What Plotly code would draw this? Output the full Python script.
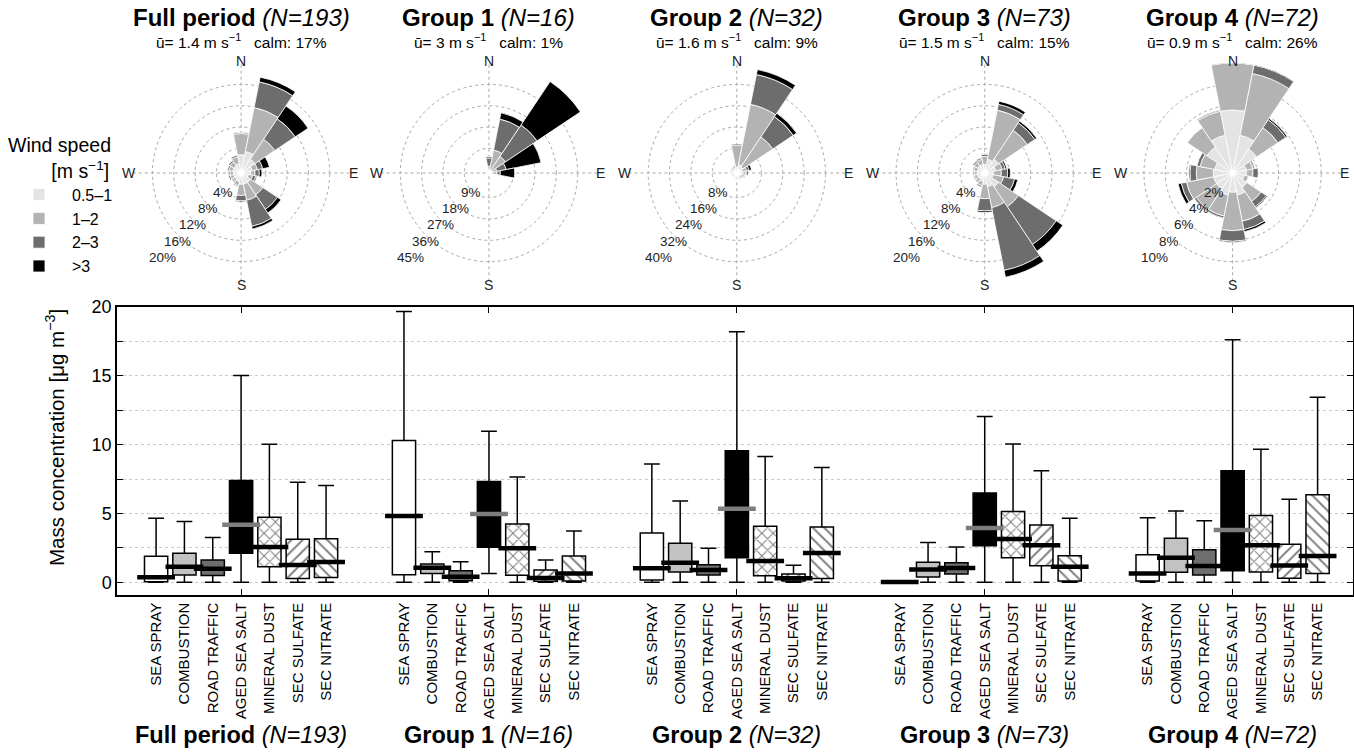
import math
import plotly.graph_objects as go

W, H = 1354, 754
FONT = "Liberation Sans, Arial, Helvetica, sans-serif"

# ---------------------------------------------------------------- data
groups = ["Full period", "Group 1", "Group 2", "Group 3", "Group 4"]
n_obs = [193, 16, 32, 73, 72]
mean_speed = ["1.4", "3", "1.6", "1.5", "0.9"]
calm_pct = [17, 1, 9, 15, 26]

categories = ["SEA SPRAY", "COMBUSTION", "ROAD TRAFFIC", "AGED SEA SALT",
              "MINERAL DUST", "SEC SULFATE", "SEC NITRATE"]

# box statistics, one row per source, one value per group
whisker_low = [
    [0, 0, 0, 0, 0],
    [0, 0, 0, 0, 0],
    [0, 0, 0, 0, 0],
    [0, 0.65, 0, 0, 0],
    [0, 0, 0, 0, 0],
    [0, 0, 0, 0, 0],
    [0, 0, 0, 0, 0],
]
q1 = [
    [0.05, 0.56, 0.17, 0.0, 0.10],
    [0.53, 0.65, 0.75, 0.38, 0.73],
    [0.50, 0.12, 0.53, 0.60, 0.53],
    [2.11, 2.55, 1.79, 2.66, 0.85],
    [1.14, 0.51, 0.48, 1.79, 0.75],
    [0.27, 0.07, 0.10, 1.21, 0.29],
    [0.36, 0.10, 0.27, 0.10, 0.65],
]
median = [
    [0.37, 4.82, 1.02, 0.03, 0.65],
    [1.14, 1.06, 1.43, 0.94, 1.79],
    [0.99, 0.41, 0.89, 1.04, 1.19],
    [4.19, 4.97, 5.35, 3.95, 3.80],
    [2.57, 2.47, 1.55, 3.15, 2.69],
    [1.26, 0.31, 0.29, 2.69, 1.23],
    [1.48, 0.65, 2.13, 1.14, 1.91],
]
q3 = [
    [1.90, 10.30, 3.59, 0.08, 2.01],
    [2.11, 1.33, 2.83, 1.45, 3.20],
    [1.62, 0.85, 1.28, 1.43, 2.37],
    [7.39, 7.32, 9.55, 6.49, 8.10],
    [4.73, 4.24, 4.07, 5.14, 4.85],
    [3.13, 0.89, 0.60, 4.17, 2.76],
    [3.17, 1.91, 4.02, 1.94, 6.37],
]
whisker_high = [
    [4.65, 19.68, 8.60, 0.12, 4.70],
    [4.41, 2.23, 5.91, 2.90, 5.19],
    [3.25, 1.50, 2.47, 2.57, 4.48],
    [15.03, 10.98, 18.20, 12.05, 17.62],
    [10.03, 7.66, 9.14, 10.04, 9.67],
    [7.27, 1.62, 1.24, 8.10, 6.03],
    [7.03, 3.73, 8.34, 4.65, 13.45],
]

# wind roses: frequency (%) per 22.5-degree sector, N clockwise
directions = ["N", "NNE", "NE", "ENE", "E", "ESE", "SE", "SSE",
              "S", "SSW", "SW", "WSW", "W", "WNW", "NW", "NNW"]
speed_classes = ["0.5\u20131", "1\u20132", "2\u20133", ">3"]
freq_05_1 = [
    [2.8, 3.5, 2.5, 1.5, 1.2, 0.8, 1.5, 1.5, 1.5, 1.0, 0.8, 0.8, 0.8, 1.0, 1.0, 1.2],
    [0, 0, 0, 0, 0, 0, 0, 0, 0, 0, 0, 0, 0, 0, 0, 0],
    [1.0, 2.0, 1.5, 1.0, 1.0, 0.6, 0.5, 0.4, 0.4, 0.3, 0.3, 0.4, 0.5, 0.5, 0.5, 0.6],
    [1.0, 2.0, 2.5, 1.5, 1.0, 1.0, 2.5, 2.0, 1.5, 1.0, 0.8, 0.8, 0.8, 0.8, 1.0, 1.0],
    [5.6, 3.3, 2.4, 1.0, 1.0, 0.8, 1.3, 1.8, 1.5, 1.8, 1.5, 1.5, 1.5, 1.4, 2.6, 3.3],
]
freq_1_2 = [
    [4.0, 8.4, 4.5, 1.0, 0.8, 0.8, 2.8, 3.1, 2.1, 0.8, 0.5, 0.7, 0.7, 0.7, 0.9, 1.3],
    [1.5, 8.5, 7.0, 2.0, 2.0, 0, 0, 0, 0, 0, 0, 0, 0, 0, 0, 0],
    [8.2, 23.0, 13.5, 1.5, 1.0, 0.8, 0.5, 0.4, 0.4, 0.3, 0.3, 0.3, 0.4, 0.5, 0.6, 0.8],
    [1.5, 9.4, 6.5, 1.2, 1.5, 2.0, 4.5, 4.0, 2.7, 0.8, 0.6, 0.6, 0.6, 0.7, 0.8, 1.0],
    [4.4, 5.9, 2.4, 0.6, 0.6, 0.4, 1.6, 2.5, 3.6, 2.0, 2.3, 2.6, 1.6, 1.4, 2.2, 2.3],
]
freq_2_3 = [
    [0.2, 4.9, 4.6, 1.0, 0.8, 0.6, 3.3, 5.0, 1.0, 0.2, 0.2, 0.3, 0.3, 0.3, 0.3, 0.3],
    [3.5, 13.3, 16.0, 4.0, 1.4, 0, 0, 0, 0, 0, 0, 0, 0, 0, 0, 0],
    [0.5, 11.4, 9.2, 1.0, 0.5, 0.4, 0.3, 0.2, 0.2, 0, 0, 0, 0.2, 0.2, 0.3, 0.3],
    [0.4, 1.1, 1.7, 0.6, 1.2, 2.1, 8.5, 12.0, 2.3, 0.3, 0.2, 0.2, 0.2, 0.2, 0.3, 0.3],
    [0.2, 0.8, 0.9, 0.1, 0.5, 0, 0.6, 0.8, 1.0, 0.2, 0.2, 0.5, 0.6, 0.3, 0, 0.1],
]
freq_gt3 = [
    [0, 0.9, 2.9, 1.3, 0.5, 0.2, 0.8, 0.5, 0.2, 0, 0, 0, 0, 0, 0, 0],
    [0.5, 2.7, 22.0, 15.0, 6.1, 0, 0, 0, 0, 0, 0, 0, 0, 0, 0, 0],
    [0, 1.9, 1.5, 0.9, 0.5, 0.2, 0, 0, 0, 0, 0, 0, 0, 0, 0, 0],
    [0.1, 0.6, 0.4, 0.3, 0.5, 0.6, 1.5, 1.3, 0.3, 0, 0, 0, 0, 0, 0, 0],
    [0, 0.3, 0.15, 0.1, 0, 0, 0.1, 0.2, 0.1, 0, 0, 0.3, 0.1, 0, 0, 0],
]
ring_step = [4, 9, 8, 4, 2]  # % per circle, five circles per rose
compass = ["N", "E", "S", "W"]

# ---------------------------------------------------------------- styling
speed_colors = ["#e4e4e4", "#b3b3b3", "#6d6d6d", "#000000"]
box_fill = ["white", "#c2c2c2", "#6e6e6e", "black", "white", "white", "white"]
box_hatch = ["", "", "", "", "x", "/", "\\"]
median_color = ["black", "black", "black", "#7d7d7d", "black", "black", "black"]

GROUP_STEP = 8.75          # slots between groups on the x scale
BOX_W = 0.82
X_RANGE = [-1.38, 42.25]
X_DOM = [117 / W, 1353 / W]
Y_RANGE = [-0.92, 20]
Y_DOM = [1 - 595 / H, 1 - 307 / H]


def x_to_paper(xv):
    frac = (xv - X_RANGE[0]) / (X_RANGE[1] - X_RANGE[0])
    return X_DOM[0] + frac * (X_DOM[1] - X_DOM[0])


group_center = [g * GROUP_STEP + 3 for g in range(len(groups))]

fig = go.Figure()

# ---------------------------------------------------------------- box plots
for i, cat in enumerate(categories):
    xs = [g * GROUP_STEP + i for g in range(len(groups))]
    if box_hatch[i]:
        fig.add_trace(go.Bar(
            x=xs, base=q1[i], y=[b - a for a, b in zip(q1[i], q3[i])],
            width=BOX_W, showlegend=False, hoverinfo="skip",
            marker=dict(color="white", line=dict(width=0),
                        pattern=dict(shape=box_hatch[i], size=8, solidity=0.24,
                                     fgcolor="black", bgcolor="white")),
        ))
    fig.add_trace(go.Box(
        x=xs, q1=q1[i], median=median[i], q3=q3[i],
        lowerfence=whisker_low[i], upperfence=whisker_high[i],
        width=BOX_W, whiskerwidth=0.68, name=cat, showlegend=False,
        fillcolor="rgba(0,0,0,0)" if box_hatch[i] else box_fill[i],
        line=dict(color="black", width=1.5),
    ))

for i, cat in enumerate(categories):
    xs = [g * GROUP_STEP + i for g in range(len(groups))]
    fig.add_trace(go.Scatter(
        x=xs, y=median[i], mode="markers", xaxis="x2", yaxis="y",
        showlegend=False, hoverinfo="skip",
        marker=dict(symbol="line-ew", size=27,
                    line=dict(color=median_color[i], width=4.5)),
    ))

# ---------------------------------------------------------------- wind roses
theta = [k * 360 / len(directions) for k in range(len(directions))]
classes = [freq_05_1, freq_1_2, freq_2_3, freq_gt3]
R_PX = 110
CY = 1 - 173 / H
LABEL_ANGLE = math.radians(227)
polar_layout = {}
annotations = []
for g in range(len(groups)):
    pid = "polar" if g == 0 else f"polar{g + 1}"
    for c, freq in enumerate(classes):
        fig.add_trace(go.Barpolar(
            r=freq[g], theta=theta, width=22.5, subplot=pid,
            name=speed_classes[c], showlegend=(g == 0), hoverinfo="skip",
            marker=dict(color=speed_colors[c], line=dict(color="white", width=0.8)),
        ))
    cx = x_to_paper(group_center[g])
    step = ring_step[g]
    polar_layout[pid] = dict(
        domain=dict(x=[cx - R_PX / W, cx + R_PX / W], y=[CY - R_PX / H, CY + R_PX / H]),
        bgcolor="white",
        hole=0.03,
        barmode="stack",
        angularaxis=dict(
            direction="clockwise", rotation=90, tickmode="array",
            tickvals=[0, 90, 180, 270], showticklabels=False,
            showline=False, ticks="", showgrid=True, gridcolor="#a8a8a8",
            griddash="dot", gridwidth=1,
        ),
        radialaxis=dict(
            range=[0, step * 5], tickmode="array",
            tickvals=[step * k for k in range(1, 6)],
            showticklabels=False, showline=False, ticks="", showgrid=True,
            gridcolor="#a8a8a8", griddash="dot", gridwidth=1,
        ),
    )
    # compass letters sitting on the outer circle
    rx, ry = 112 / W, 112 / H
    for lbl, (dx, dy) in zip(compass, [(0, ry), (rx, 0), (0, -ry), (-rx, 0)]):
        annotations.append(dict(
            x=cx + dx, y=CY + dy, xref="paper", yref="paper", text=lbl,
            showarrow=False, font=dict(size=14, color="#222"),
            xanchor="center", yanchor="middle",
        ))
    # ring labels along the south-west diagonal, just outside each circle
    for k in range(1, 6):
        rad = k * R_PX / 5 + 5
        annotations.append(dict(
            x=cx + rad * math.cos(LABEL_ANGLE) / W,
            y=CY + rad * math.sin(LABEL_ANGLE) / H,
            xref="paper", yref="paper", text=f"{step * k}%",
            showarrow=False, font=dict(size=13.5, color="#222"),
            xanchor="center", yanchor="middle",
        ))

# ---------------------------------------------------------------- annotations
for g, name in enumerate(groups):
    label = f"<b>{name}</b> <i>(N={n_obs[g]})</i>"
    annotations.append(dict(
        x=group_center[g], xref="x", y=1 - 17 / H, yref="paper",
        text=label, showarrow=False, font=dict(size=24, color="black"),
        xanchor="center", yanchor="middle",
    ))
    annotations.append(dict(
        x=group_center[g], xref="x", y=1 - 41 / H, yref="paper",
        text=(f"\u016b= {mean_speed[g]} m s<sup>\u22121</sup>\u00a0\u00a0\u00a0"
              f"calm: {calm_pct[g]}%"),
        showarrow=False, font=dict(size=15.5, color="black"),
        xanchor="center", yanchor="middle",
    ))
    annotations.append(dict(
        x=group_center[g], xref="x", y=1 - 735 / H, yref="paper",
        text=label, showarrow=False, font=dict(size=23.5, color="black"),
        xanchor="center", yanchor="middle",
    ))

annotations.append(dict(
    x=55 / W, y=1 - 438 / H, xref="paper", yref="paper",
    text="Mass concentration [\u03bcg m<sup>\u22123</sup>]", textangle=-90,
    showarrow=False, font=dict(size=20.5, color="black"),
    xanchor="center", yanchor="middle",
))

tick_pos = [g * GROUP_STEP + i for g in range(len(groups)) for i in range(len(categories))]
tick_txt = [cat for g in range(len(groups)) for cat in categories]

fig.update_layout(
    width=W, height=H,
    margin=dict(l=0, r=0, t=0, b=0),
    paper_bgcolor="white", plot_bgcolor="white",
    font=dict(family=FONT, color="black"),
    boxmode="overlay", barmode="overlay",
    annotations=annotations,
    legend=dict(
        x=6 / W, y=1 - 127 / H, xanchor="left", yanchor="top",
        traceorder="normal", bgcolor="rgba(0,0,0,0)",
        font=dict(size=16), itemwidth=56,
        title=dict(text="Wind speed<br>" + "\u00a0" * 8 + "[m s<sup>\u22121</sup>]",
                   font=dict(size=19.5)),
    ),
    xaxis=dict(
        domain=X_DOM, range=X_RANGE, anchor="y",
        tickmode="array", tickvals=tick_pos, ticktext=tick_txt,
        tickangle=-90, tickfont=dict(size=15), ticks="",
        showline=True, linecolor="black", linewidth=1.5, mirror=True,
        showgrid=False, zeroline=False, automargin=False,
    ),
    xaxis2=dict(
        overlaying="x", matches="x", anchor="y", domain=X_DOM, range=X_RANGE,
        tickmode="array", tickvals=group_center, showticklabels=False,
        ticks="inside", ticklen=6, tickwidth=1.2, tickcolor="black",
        showline=True, linecolor="black", linewidth=1.5, mirror="ticks",
        showgrid=False, zeroline=False, automargin=False,
    ),
    yaxis=dict(
        domain=Y_DOM, range=Y_RANGE,
        tickmode="array", tickvals=[k * 2.5 for k in range(9)],
        ticktext=[str(int(k * 2.5)) if k % 2 == 0 else "" for k in range(9)],
        ticks="inside", ticklen=6, tickwidth=1.2, tickcolor="black",
        tickfont=dict(size=18),
        showline=True, linecolor="black", linewidth=1.5, mirror="ticks",
        showgrid=True, gridcolor="#cacaca", griddash="dot", gridwidth=1,
        zeroline=False, automargin=False,
    ),
    **polar_layout,
)

fig.write_html("out.html")
